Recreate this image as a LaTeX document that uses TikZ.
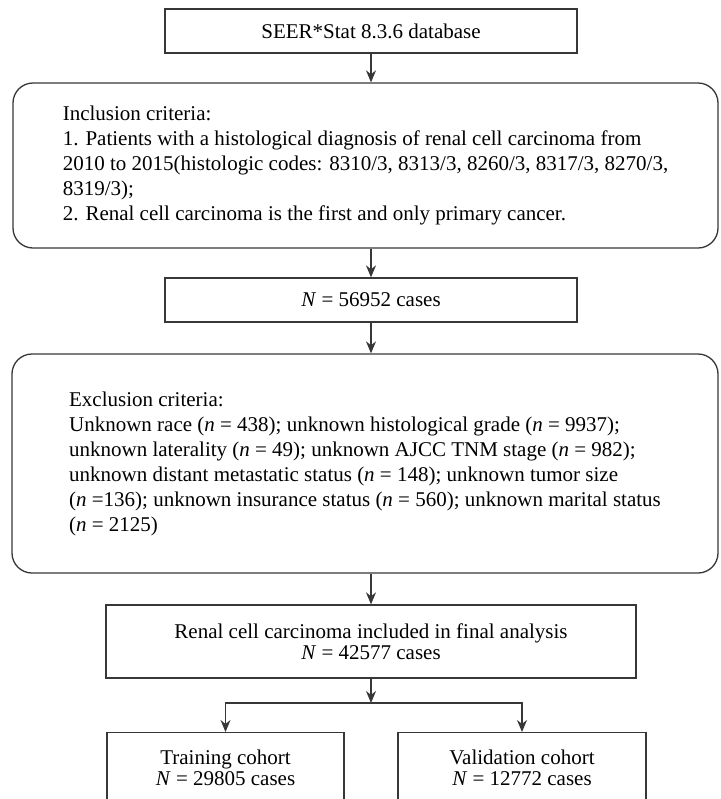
\documentclass[tikz,border=0pt]{standalone}
\usepackage{fontspec}
\setmainfont{Liberation Serif}
\usetikzlibrary{arrows.meta}
\definecolor{framegray}{RGB}{55, 55, 55}
\tikzset{
    flowbox/.style   = {draw=framegray, line width=0.65pt, align=center,
                        font=\fontsize{10.5}{10.5}\selectfont},
    criteriabox/.style = {draw=framegray, line width=0.65pt, rounded corners=10pt, align=left,
                        font=\fontsize{10.5}{12.5}\selectfont},
    flowarrow/.style = {draw=framegray, line width=0.65pt, -{Stealth[length=6pt,width=5pt]}}
}
\begin{document}
\begin{tikzpicture}[x=0.5pt, y=-0.5pt]
            \useasboundingbox (0,0) rectangle (720,799);
            \node[flowbox, minimum width=206pt, minimum height=22pt]      (seer)  at (371.0, 31.0)  {SEER*Stat 8.3.6 database};
            \node[criteriabox, minimum width=352.5pt, minimum height=82.5pt] (incl) at (365.5,165.5)
                 {Inclusion criteria:\\
                  1. Patients with a histological diagnosis of renal cell carcinoma from\\
                  2010 to 2015(histologic codes: 8310/3, 8313/3, 8260/3, 8317/3, 8270/3,\\
                  8319/3);\\
                  2. Renal cell carcinoma is the first and only primary cancer.};
            \node[flowbox, minimum width=206pt, minimum height=22pt]      (total) at (371.0,300.0) {\textit{N} = 56952 cases};
            \node[criteriabox, minimum width=353pt, minimum height=109.5pt] (excl) at (365.0,463.5)
                 {Exclusion criteria:\\
                  Unknown race (\textit{n} = 438); unknown histological grade (\textit{n} = 9937);\\
                  unknown laterality (\textit{n} = 49); unknown AJCC TNM stage (\textit{n} = 982);\\
                  unknown distant metastatic status (\textit{n} = 148); unknown tumor size\\
                  (\textit{n} =136); unknown insurance status (\textit{n} = 560); unknown marital status\\
                  (\textit{n} = 2125)};
            \node[flowbox, minimum width=265pt, minimum height=36.5pt]    (final) at (371.0,641.5)
                 {Renal cell carcinoma included in final analysis\\ \textit{N} = 42577 cases};
            \node[flowbox, minimum width=118.5pt, minimum height=35pt, anchor=north] (train) at (225.5,732.0)
                 {Training cohort\\ \textit{N} = 29805 cases};
            \node[flowbox, minimum width=124pt, minimum height=35pt, anchor=north]   (valid) at (522.0,732.0)
                 {Validation cohort\\ \textit{N} = 12772 cases};
            \coordinate (split) at (371.0,703.0);
            \draw[flowarrow] (seer.south)  -- (seer.south |- incl.north);
            \draw[flowarrow] (total.north |- incl.south) -- (total.north);
            \draw[flowarrow] (total.south) -- (total.south |- excl.north);
            \draw[flowarrow] (final.north |- excl.south) -- (final.north);
            \draw[flowarrow] (final.south) -- (split);
            \draw[flowarrow] (split) -| (train);
            \draw[flowarrow] (split) -| (valid);
            \end{tikzpicture}
\end{document}
